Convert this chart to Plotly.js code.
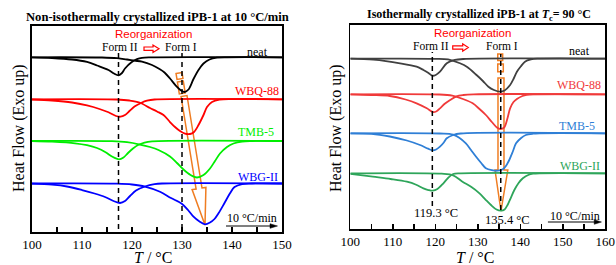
<!DOCTYPE html>
<html><head><meta charset="utf-8">
<script src="https://cdn.plot.ly/plotly-3.0.1.min.js"></script>
<style>html,body{margin:0;padding:0;background:#fff}#chart{width:616px;height:265px}</style>
</head><body><div id="chart"></div>
<script>
// ---------- Left panel: non-isothermal (10 °C/min) ----------
const L_neat1_T  = [100,104,108,111,113,115.3,116.4,117.3,118,118.6,119.9,121,122,123.5,150];
const L_neat1_HF = [174.7,174,172.5,170,166.5,162,158.5,156.7,159,163.5,169.7,172.8,174.2,174.7,174.7];
const L_neat2_T  = [100,114,117,119,120.5,122,124,125.5,126.5,127.6,128.9,129.8,130.5,131.3,132.3,133.3,134.3,135.5,137,139,150];
const L_neat2_HF = [174.7,174.5,173.8,172.5,171.3,170.3,167,163,159.5,153.5,145.5,141.5,140,142.5,153,162,168.5,172.5,174.3,174.7,174.7];
const L_red1_T   = [100,104,108,111,113.5,115.3,116.8,117.7,118.6,119.5,120.5,121.9,123,124.5,150];
const L_red1_HF  = [132.5,131.5,129.5,126.5,123,119.7,116,115.3,117,121,125.5,129.3,131.3,132.5,132.7];
const L_red2_T   = [100,117,119.5,121.5,123.6,125,126.3,127.6,128.6,129.6,130.6,131.6,132.4,133.3,134.3,135,136,137.5,150];
const L_red2_HF  = [132.7,132.5,131.5,129.5,124,120.5,117,110,105,101,98.3,98,100,107,117,125,130,132.3,132.7];
const L_grn1_T   = [100,104,108.6,111,113,114.8,116,117.4,118.3,119.2,120.2,121.2,122.5,124,150];
const L_grn1_HF  = [91,90.3,88.7,86.8,84,79.5,75.5,72.7,74.5,79,83.5,87,89.5,90.7,91];
const L_grn2_T   = [100,116,119,121.6,123.6,125.3,127.6,129,130.3,131.7,133,134.3,135.6,136.6,137.6,139,140.3,142,144,150];
const L_grn2_HF  = [91,90.8,89.8,87.5,85,82,75.5,69,62.5,57,54.5,57,63.5,71,78.5,85,88.5,90.5,91,91];
const L_blu1_T   = [100,104,107,110,112.5,114.6,116.3,117.6,118.6,119.6,120.8,122.6,124.5,126,150];
const L_blu1_HF  = [48.3,47.3,45.5,42,38.5,35,31,29,31,36,41.5,45.5,47.8,48.5,48.5];
const L_blu2_T   = [100,117,120,122.6,125.6,127.8,129.9,131.2,132.3,133.5,134.6,135.6,136.5,137.3,138.5,139.6,140.5,142,144,150];
const L_blu2_HF  = [48.5,48.3,47.5,45.5,40.3,34,28.5,22,15.3,10.5,7.7,9.5,13,18.7,29,38.7,45,48,48.5,48.5];

// ---------- Right panel: isothermal (Tc = 90 °C) ----------
const R_neat1_T  = [100,105.4,111.7,115.6,117.2,118.4,119.3,120.1,121.1,122.7,124.6,126.6,160];
const R_neat1_HF = [170.3,169.3,165.7,162.3,159,156,153.3,154,157.3,165.7,169,170,170.3];
const R_neat2_T  = [100,120,123,125.8,127.5,129.7,131.2,132.5,133.8,135.2,136.3,137.6,138.4,139.2,140.1,141.1,142.5,144,160];
const R_neat2_HF = [170.3,170.2,169.5,165.7,162,154,148,142.3,139,137.3,138.5,144,150,157.3,162.5,167.3,169.5,170.3,170.3];
const R_red1_T   = [100,105,109.3,113,115.6,118,119.4,120.2,121.1,122.3,123.5,125,126.6,129,160];
const R_red1_HF  = [134.7,134,133,129.5,125.7,120.7,117,117.5,120.7,125.5,129,132.7,134,134.7,134.7];
const R_red2_T   = [100,121,124,126.5,128.8,130.4,131.9,133.3,134.5,135.3,136.2,137,137.6,138.4,139.2,140.5,141.5,143,160];
const R_red2_HF  = [134.7,134.5,133.3,130,125.7,120,114,107,101.5,100,101.5,111,120.7,127,130,133,134.2,134.7,134.7];
const R_blu1_T   = [100,105,109.3,113.3,116.4,118.3,119.3,120.2,121.1,122,122.7,124.2,126,160];
const R_blu1_HF  = [95.7,95.2,92.5,88.5,84,80.3,78.7,79.5,82.3,86.5,90.7,94,95.5,95.7];
const R_blu2_T   = [100,121,124.2,127.2,128.4,129.6,130.8,131.9,133.3,134.7,135.9,136.7,137.4,138.2,139,140.2,141.3,143,144.5,160];
const R_blu2_HF  = [95.7,95.5,94.3,85.7,79,72.3,66,60.7,58.8,58.3,59.7,63.5,69,77,85.7,91,94,95.3,95.7,95.7];
const R_grn1_T   = [100,105.3,109.5,113.3,115.5,117.2,118.4,119.4,120.5,121.9,123,124.2,126,160];
const R_grn1_HF  = [55.2,52.3,50,47.3,44.3,40.7,39,38.3,40,45.7,51,55,55.7,55.7];
const R_grn2_T   = [100,121.5,124.2,126.4,128.5,130.4,131.8,133.1,134.4,135.5,136.3,137,137.8,138.6,139.6,140.6,142,143,144.5,160];
const R_grn2_HF  = [55.7,55.3,53.7,47.3,42,35.7,29.5,24,19.5,18.3,19.5,24,31.5,39,46,50.7,54.3,55.3,55.7,55.7];

const xTickVals_L = [100,105,110,115,120,125,130,135,140,145,150];
const xTickText_L = ['100','','110','','120','','130','','140','','150'];
const xTickVals_R = [100,105,110,115,120,125,130,135,140,145,150,155,160];
const xTickText_R = ['100','','110','','120','','130','','140','','150','','160'];

const SERIF = 'Liberation Serif, Times New Roman, serif';
const SANS = 'Liberation Sans, Arial, sans-serif';

function tr(x, y, color, ax) {
  return {x: x, y: y, type: 'scatter', mode: 'lines',
    line: {color: color, width: 1.8, shape: 'spline', smoothing: 0.9},
    xaxis: ax ? 'x2' : 'x', yaxis: ax ? 'y2' : 'y', hoverinfo: 'skip'};
}
const cL = {neat:'#000000', red:'#ff0000', grn:'#00ee00', blu:'#0000ff'};
const cR = {neat:'#404040', red:'#f03a3a', blu:'#2f7fd6', grn:'#2ea55a'};

const data = [
  tr(L_neat1_T, L_neat1_HF, cL.neat, 0), tr(L_neat2_T, L_neat2_HF, cL.neat, 0),
  tr(L_red1_T, L_red1_HF, cL.red, 0), tr(L_red2_T, L_red2_HF, cL.red, 0),
  tr(L_grn1_T, L_grn1_HF, cL.grn, 0), tr(L_grn2_T, L_grn2_HF, cL.grn, 0),
  tr(L_blu1_T, L_blu1_HF, cL.blu, 0), tr(L_blu2_T, L_blu2_HF, cL.blu, 0),
  tr(R_neat1_T, R_neat1_HF, cR.neat, 1), tr(R_neat2_T, R_neat2_HF, cR.neat, 1),
  tr(R_red1_T, R_red1_HF, cR.red, 1), tr(R_red2_T, R_red2_HF, cR.red, 1),
  tr(R_blu1_T, R_blu1_HF, cR.blu, 1), tr(R_blu2_T, R_blu2_HF, cR.blu, 1),
  tr(R_grn1_T, R_grn1_HF, cR.grn, 1), tr(R_grn2_T, R_grn2_HF, cR.grn, 1)
];

function xax(domain, range, tv, tt) {
  return {domain: domain, range: range, tickvals: tv, ticktext: tt, ticks: 'inside', ticklen: 5,
    tickwidth: 1.5, tickcolor: '#000', showline: true, mirror: true, linewidth: 1.6, linecolor: '#000',
    showgrid: false, zeroline: false, tickfont: {family: SERIF, size: 13, color: '#000'}, fixedrange: true};
}
function yax(domain, range) {
  return {domain: domain, range: range, showticklabels: false, ticks: '', showline: true, mirror: true,
    linewidth: 1.6, linecolor: '#000', showgrid: false, zeroline: false, fixedrange: true};
}

const OR = '#ef7d22';
const dash = {color: '#000', width: 1.5, dash: '5px,4px'};
const shapes = [
  {type:'line', xref:'x', yref:'y', x0:117.3, x1:117.3, y0:3, y1:179, line: dash},
  {type:'line', xref:'x', yref:'y', x0:130, x1:130, y0:3, y1:179, line: dash},
  {type:'line', xref:'x2', yref:'y2', x0:119.3, x1:119.3, y0:23, y1:177, line: dash},
  {type:'line', xref:'x2', yref:'y2', x0:135.4, x1:135.4, y0:19, y1:175, line: dash},
  {type:'path', xref:'x', yref:'y', layer:'below', line:{color:OR, width:1.5},
   path:'M128.81,158.48 L130.0,159.44 L130.19,153.52 L129.0,152.56 Z'},
  {type:'path', xref:'x', yref:'y', layer:'below', line:{color:OR, width:1.5},
   path:'M129.08,149.94 L130.26,150.9 L130.64,139.06 L129.46,138.1 Z'},
  {type:'path', xref:'x', yref:'y', layer:'below', line:{color:OR, width:1.5},
   path:'M129.81,135.5 L132.82,43.0 L132.02,42.4 L134.6,7 L134.78,44.6 L134.0,44.0 L131.0,136.5 Z'},
  {type:'path', xref:'x2', yref:'y2', layer:'below', line:{color:OR, width:1.5},
   path:'M134.7,175 L135.85,175 L135.85,168.5 L134.7,168.5 Z'},
  {type:'path', xref:'x2', yref:'y2', layer:'below', line:{color:OR, width:1.5},
   path:'M134.7,165 L136.0,165 L136.0,157.3 L134.7,157.3 Z'},
  {type:'path', xref:'x2', yref:'y2', layer:'below', line:{color:OR, width:1.5},
   path:'M134.75,151 L136.16,151 L136.16,59 L137.06,59 L135.45,18 L134.05,59 L134.75,59 Z'},
  {type:'path', xref:'x', yref:'y', line:{color:'#ff0000', width:1.2},
   path:'M122.4,181.6 L124.2,181.6 L124.2,179.6 L125.4,183.3 L124.2,187.0 L124.2,185.0 L122.4,185.0 Z'},
  {type:'path', xref:'x2', yref:'y2', line:{color:'#ff0000', width:1.2},
   path:'M124.1,179.8 L126.45,179.8 L126.45,177.8 L127.76,181.5 L126.45,185.2 L126.45,183.2 L124.1,183.2 Z'},
  // heating-rate arrows
  {type:'line', xref:'x', yref:'y', x0:138.8, x1:148, y0:6, y1:6, line:{color:'#000', width:1}},
  {type:'path', xref:'x', yref:'y', fillcolor:'#000', line:{color:'#000', width:0.5},
   path:'M147.6,8.3 L149.1,6 L147.6,3.7 Z'},
  {type:'line', xref:'x2', yref:'y2', x0:146.5, x1:157.8, y0:7, y1:7, line:{color:'#000', width:1}},
  {type:'path', xref:'x2', yref:'y2', fillcolor:'#000', line:{color:'#000', width:0.5},
   path:'M157.4,9.3 L159.1,7 L157.4,4.7 Z'}
];

function ta(x, y, text, color, size, fam, ax) {
  return {x: x, y: y, xref: ax ? 'x2' : 'x', yref: ax ? 'y2' : 'y', text: text, showarrow: false,
    xanchor: 'center', yanchor: 'middle', font: {family: fam || SERIF, size: size, color: color}};
}
function pa(x, y, text, size, angle) {
  return {x: x, y: y, xref: 'paper', yref: 'paper', text: text, showarrow: false, textangle: angle || 0,
    xanchor: 'center', yanchor: 'middle', font: {family: SERIF, size: size, color: '#000'}};
}
const annotations = [
  pa(0.2549, 0.9358, '<b>Non-isothermally crystallized iPB-1 at 10 °C/min</b>', 12.6),
  pa(0.7768, 0.9434, '<b>Isothermally crystallized iPB-1 at <i>T</i><sub>c</sub>= 90 °C</b>', 12),
  pa(0.2484, 0.029, '<i>T</i> / °C', 16),
  pa(0.7706, 0.029, '<i>T</i> / °C', 16),
  pa(0.0308, 0.517, 'Heat Flow (Exo up)', 16, -90),
  pa(0.5455, 0.517, 'Heat Flow (Exo up)', 16, -90),
  ta(124.32, 198, 'Reorganization', '#ff0000', 11.5, SANS, 0),
  ta(117.67, 185.3, 'Form II', '#000', 11.5, SERIF, 0),
  ta(129.87, 185.3, 'Form I', '#000', 11.5, SERIF, 0),
  ta(145, 180, 'neat', '#000', 12, SERIF, 0),
  ta(145, 141, 'WBQ-88', '#ff0000', 12, SERIF, 0),
  ta(144.77, 100, 'TMB-5', '#00ee00', 12, SERIF, 0),
  ta(145.27, 55, 'WBG-II', '#0000ff', 12, SERIF, 0),
  ta(144, 14, '10 °C/min', '#000', 12, SERIF, 0),
  ta(128.75, 196, 'Reorganization', '#ff0000', 11.5, SANS, 1),
  ta(118.99, 183, 'Form II', '#000', 11.5, SERIF, 1),
  ta(135.58, 183, 'Form I', '#000', 11.5, SERIF, 1),
  ta(154.05, 177.5, 'neat', '#000', 12, SERIF, 1),
  ta(153.76, 143.5, 'WBQ-88', cR.red, 12, SERIF, 1),
  ta(153.34, 103, 'TMB-5', cR.blu, 12, SERIF, 1),
  ta(154.05, 63, 'WBG-II', cR.grn, 12, SERIF, 1),
  ta(120.16, 16, '119.3 °C', '#000', 12.5, SERIF, 1),
  ta(136.99, 9, '135.4 °C', '#000', 12.5, SERIF, 1),
  ta(152.87, 13, '10 °C/min', '#000', 12, SERIF, 1)
];

const layout = {
  width: 616, height: 265, margin: {l:0, r:0, t:0, b:0}, showlegend: false,
  paper_bgcolor: '#fff', plot_bgcolor: '#fff',
  xaxis: Object.assign(xax([0.05195, 0.45779], [100,150], xTickVals_L, xTickText_L), {anchor:'y'}),
  yaxis: Object.assign(yax([0.1245, 0.9019], [0,206]), {anchor:'x'}),
  xaxis2: Object.assign(xax([0.5687, 0.9826], [100,160], xTickVals_R, xTickText_R), {anchor:'y2'}),
  yaxis2: Object.assign(yax([0.1358, 0.9057], [0,204]), {anchor:'x2'}),
  shapes: shapes, annotations: annotations
};
Plotly.newPlot('chart', data, layout, {staticPlot: true, displayModeBar: false});
</script></body></html>
